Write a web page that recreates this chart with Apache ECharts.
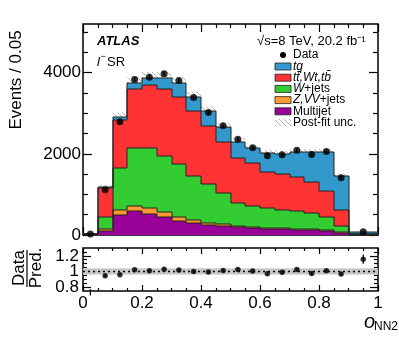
<!DOCTYPE html>
<html>
<head>
<meta charset="utf-8">
<script src="https://cdn.jsdelivr.net/npm/echarts@6/dist/echarts.min.js"></script>
<style>
  html, body { margin: 0; padding: 0; background: #fff; }
  #chart { width: 399px; height: 337px; }
</style>
</head>
<body>
<div id="chart"></div>
<script>
// bin edges of o_NN2 (last bin is 0.9-1.0)
const binEdges = [0, 0.05, 0.1, 0.15, 0.2, 0.25, 0.3, 0.35, 0.4, 0.45, 0.5,
  0.55, 0.6, 0.65, 0.7, 0.75, 0.8, 0.85, 0.9, 1.0];
// per-process contributions, bottom to top of the stack
const multijet = [10, 99, 505, 593, 520, 452, 354, 300, 250, 210, 185, 170, 148, 140, 125, 115, 105, 55, 5];
const zvvJets = [4, 46, 105, 127, 150, 108, 98, 70, 55, 55, 40, 35, 32, 25, 25, 25, 25, 20, 5];
const wJets = [6, 307, 1036, 1420, 1470, 1380, 1298, 1095, 955, 765, 565, 519, 478, 452, 443, 411, 322, 147, 15];
const ttbar = [8, 708, 1194, 1470, 1550, 1665, 1650, 1580, 1415, 1255, 1119, 1046, 906, 889, 831, 749, 642, 395, 7];
const tq = [2, 20, 70, 140, 170, 255, 345, 346, 370, 375, 395, 370, 452, 494, 617, 741, 947, 840, 38];
const dataCounts = [22, 1115, 2790, 3830, 3890, 3975, 3810, 3391, 3020, 2690, 2360, 2150, 1955, 1980, 2090, 1985, 2060, 1410, 81];
// relative post-fit uncertainty and data/pred error bars
const uncRel = [0.04, 0.04, 0.04, 0.04, 0.04, 0.04, 0.04, 0.04, 0.04, 0.04, 0.04, 0.04, 0.04, 0.04, 0.04, 0.04, 0.04, 0.04, 0.04];
const ratioErr = [0.04, 0.02, 0.015, 0.012, 0.012, 0.012, 0.012, 0.013, 0.014, 0.015, 0.016, 0.017, 0.018, 0.018, 0.017, 0.018, 0.018, 0.02, 0.06];

const xTicksMajor = [0, 0.2, 0.4, 0.6, 0.8, 1];
const xTicksMinor = [0.05, 0.1, 0.15, 0.25, 0.3, 0.35, 0.45, 0.5, 0.55, 0.65, 0.7, 0.75, 0.85, 0.9, 0.95];
const yTicksMajor = [0, 2000, 4000];
const yTicksMinor = [500, 1000, 1500, 2500, 3000, 3500, 4500, 5000];
const rTicksMajor = [0.8, 1, 1.2];
const rTicksMinor = [0.85, 0.9, 0.95, 1.05, 1.1, 1.15, 1.25];

const FONT = 'Liberation Sans, Arial, Helvetica, sans-serif';
const layers = [
  { name: 'Multijet', values: multijet, color: '#990099' },
  { name: 'Z,VV+jets', values: zvvJets, color: '#ff9933' },
  { name: 'W+jets', values: wJets, color: '#33cc33' },
  { name: 'tt,Wt,tb', values: ttbar, color: '#ff3333' },
  { name: 'tq', values: tq, color: '#3399cc' }
];

const nBins = binEdges.length - 1;
const centers = [];
for (let i = 0; i < nBins; i++) centers.push((binEdges[i] + binEdges[i + 1]) / 2);

// cumulative stack
const cum = [];
let running = new Array(nBins).fill(0);
layers.forEach(l => {
  const lo = running.slice();
  const hi = running.map((v, i) => v + l.values[i]);
  cum.push({ lo, hi });
  running = hi;
});
const total = running;
const ratio = dataCounts.map((d, i) => d / total[i]);

// hatch pattern for the uncertainty band
const hatch = document.createElement('canvas');
hatch.width = 5; hatch.height = 5;
const hc = hatch.getContext('2d');
hc.strokeStyle = '#a8a8a8';
hc.lineWidth = 0.9;
hc.beginPath();
hc.moveTo(-1, -1); hc.lineTo(6, 6);
hc.moveTo(4, -1); hc.lineTo(6, 1);
hc.moveTo(-1, 4); hc.lineTo(1, 6);
hc.stroke();
const hatchFill = { image: hatch, repeat: 'repeat' };

function stepItem(params, api) {
  const x0 = api.value(0), x1 = api.value(1), lo = api.value(2), hi = api.value(3);
  const prev = api.value(4), last = api.value(5);
  const a = api.coord([x0, hi]), b = api.coord([x1, lo]);
  const ax = Math.round(a[0]), ay = Math.round(a[1]), bx = Math.round(b[0]), by = Math.round(b[1]);
  const pts = [[ax, Math.round(api.coord([x0, prev])[1])], [ax, ay], [bx, ay]];
  if (last) pts.push([bx, Math.round(api.coord([x1, 0])[1])]);
  return {
    type: 'group',
    children: [
      { type: 'rect', z2: 0, shape: { x: ax, y: ay, width: bx - ax, height: by - ay }, style: { fill: api.visual('color') } },
      { type: 'polyline', z2: 10, shape: { points: pts }, style: { fill: null, stroke: '#222', lineWidth: 1 } }
    ]
  };
}

function bandItem(fill) {
  return function (params, api) {
    const a = api.coord([api.value(0), api.value(3)]);
    const b = api.coord([api.value(1), api.value(2)]);
    return { type: 'rect', shape: { x: a[0], y: a[1], width: b[0] - a[0], height: b[1] - a[1] }, style: { fill: fill } };
  };
}

function errItem(params, api) {
  const p0 = api.coord([api.value(0), api.value(1)]);
  const p1 = api.coord([api.value(0), api.value(2)]);
  return { type: 'line', shape: { x1: p0[0], y1: p0[1], x2: p1[0], y2: p1[1] }, style: { stroke: '#000', lineWidth: 1.2 } };
}

// two axes per side: long major ticks (+labels) and short minor ticks
function axisPair(grid, pos, min, max, majors, minors, majLen, minLen, label) {
  const base = {
    type: 'value', gridIndex: grid, position: pos, min: min, max: max,
    splitLine: { show: false }, axisLine: { show: false, onZero: false }
  };
  const major = Object.assign({}, base, {
    axisTick: { show: true, inside: true, length: majLen, customValues: majors, lineStyle: { color: '#000', width: 1.2 } },
    axisLabel: label ? Object.assign({ show: true, customValues: majors, color: '#000', fontFamily: FONT, fontSize: 17 }, label) : { show: false }
  });
  const minor = Object.assign({}, base, {
    axisTick: { show: true, inside: true, length: minLen, customValues: minors, lineStyle: { color: '#000', width: 1.2 } },
    axisLabel: { show: false }
  });
  return [major, minor];
}

const fmt = v => String(v);
const xAxes = [].concat(
  axisPair(0, 'bottom', 0, 1, xTicksMajor, xTicksMinor, 8, 4, null),
  axisPair(0, 'top', 0, 1, xTicksMajor, xTicksMinor, 8, 4, null),
  axisPair(1, 'bottom', 0, 1, xTicksMajor, xTicksMinor, 6, 3, { margin: 4, formatter: fmt }),
  axisPair(1, 'top', 0, 1, xTicksMajor, xTicksMinor, 6, 3, null)
);
const yAxes = [].concat(
  axisPair(0, 'left', 0, 5200, yTicksMajor, yTicksMinor, 9, 5, { margin: 2, formatter: fmt }),
  axisPair(0, 'right', 0, 5200, yTicksMajor, yTicksMinor, 9, 5, null),
  axisPair(1, 'left', 0.75, 1.3, rTicksMajor, rTicksMinor, 8, 4, null),
  axisPair(1, 'right', 0.75, 1.3, rTicksMajor, rTicksMinor, 8, 4, null)
);

const series = [];
// hatched post-fit band (drawn under the stack, top half shows)
series.push({
  type: 'custom', xAxisIndex: 0, yAxisIndex: 0, z: 1,
  renderItem: bandItem(hatchFill),
  data: total.map((t, i) => [binEdges[i], binEdges[i + 1], t * (1 - uncRel[i]), t * (1 + uncRel[i])])
});
layers.forEach((l, k) => {
  series.push({
    type: 'custom', name: l.name, xAxisIndex: 0, yAxisIndex: 0, z: 2,
    itemStyle: { color: l.color },
    renderItem: stepItem,
    data: cum[k].hi.map((h, i) => [binEdges[i], binEdges[i + 1], cum[k].lo[i], h,
      i === 0 ? 0 : cum[k].hi[i - 1], i === nBins - 1 ? 1 : 0])
  });
});
series.push({
  type: 'custom', xAxisIndex: 0, yAxisIndex: 0, z: 4, renderItem: errItem,
  data: dataCounts.map((d, i) => [centers[i], d - Math.sqrt(d), d + Math.sqrt(d)])
});
series.push({
  type: 'scatter', name: 'Data', xAxisIndex: 0, yAxisIndex: 0, z: 5,
  symbol: 'circle', symbolSize: 7, itemStyle: { color: '#000' },
  data: dataCounts.map((d, i) => [centers[i], d])
});
// ratio panel
series.push({
  type: 'custom', xAxisIndex: 4, yAxisIndex: 4, z: 1,
  renderItem: bandItem('#c6c6c6'),
  data: uncRel.map((u, i) => [binEdges[i], binEdges[i + 1], 1 - u, 1 + u])
});
series.push({
  type: 'line', xAxisIndex: 4, yAxisIndex: 4, z: 2, symbol: 'none',
  lineStyle: { color: '#000', width: 1.6, type: [2, 3] },
  data: [[0, 1], [1, 1]]
});
series.push({
  type: 'custom', xAxisIndex: 4, yAxisIndex: 4, z: 4, renderItem: errItem,
  data: ratio.map((r, i) => [centers[i], r - ratioErr[i], r + ratioErr[i]])
});
series.push({
  type: 'scatter', xAxisIndex: 4, yAxisIndex: 4, z: 5,
  symbol: 'circle', symbolSize: 5.5, itemStyle: { color: '#000' },
  data: ratio.map((r, i) => [centers[i], r])
});

// legend drawn as graphics
const legendRows = [
  { label: '{i|tq}', color: '#3399cc' },
  { label: '{i|tt\u0304,Wt,tb\u0304}', color: '#ff3333' },
  { label: '{i|W}{n|+jets}', color: '#33cc33' },
  { label: '{i|Z,VV}{n|+jets}', color: '#ff9933' },
  { label: '{n|Multijet}', color: '#990099' },
  { label: '{n|Post-fit unc.}', color: null }
];
const rich = {
  i: { fontStyle: 'italic', fontSize: 12, fontFamily: FONT, fill: '#000' },
  n: { fontSize: 12, fontFamily: FONT, fill: '#000' }
};
const graphics = [
  { type: 'circle', shape: { cx: 283, cy: 55, r: 3 }, style: { fill: '#000' } },
  { type: 'text', x: 293, y: 55, style: { text: 'Data', fontSize: 12, fontFamily: FONT, fill: '#000', verticalAlign: 'middle' } }
];
legendRows.forEach((r, k) => {
  const y = 66.5 + k * 11.2;
  graphics.push({
    type: 'rect', shape: { x: 275, y: y - 3.5, width: 16, height: 7 },
    style: r.color ? { fill: r.color, stroke: '#222', lineWidth: 0.8 } : { fill: hatchFill }
  });
  graphics.push({ type: 'text', x: 293, y: y, style: { text: r.label, rich: rich, verticalAlign: 'middle', fontSize: 12, fontFamily: FONT } });
});
graphics.push(
  { type: 'text', x: 97, y: 41, style: { text: 'ATLAS', fontSize: 13, fontWeight: 'bold', fontStyle: 'italic', fontFamily: FONT, fill: '#000', verticalAlign: 'middle' } },
  { type: 'text', x: 97, y: 62, style: { text: 'l', fontSize: 13, fontStyle: 'italic', fontFamily: FONT, fill: '#000', verticalAlign: 'middle' } },
  { type: 'text', x: 100.5, y: 57, style: { text: '\u2212', fontSize: 9, fontFamily: FONT, fill: '#000', verticalAlign: 'middle' } },
  { type: 'text', x: 107, y: 62, style: { text: 'SR', fontSize: 13, fontFamily: FONT, fill: '#000', verticalAlign: 'middle' } },
  { type: 'text', x: 257, y: 41, style: { text: '\u221As=8 TeV, 20.2 fb\u207B\u00B9', fontSize: 13, fontFamily: FONT, fill: '#000', verticalAlign: 'middle' } },
  { type: 'text', x: 16, y: 80, rotation: Math.PI / 2, style: { text: 'Events / 0.05', fontSize: 17, fontFamily: FONT, fill: '#000', align: 'center', verticalAlign: 'middle' } },
  { type: 'text', x: 19, y: 268, rotation: Math.PI / 2, style: { text: 'Data', fontSize: 17, fontFamily: FONT, fill: '#000', align: 'center', verticalAlign: 'middle' } },
  { type: 'line', shape: { x1: 27, y1: 250, x2: 27, y2: 287 }, style: { stroke: '#000', lineWidth: 1.2 } },
  { type: 'text', x: 36, y: 268, rotation: Math.PI / 2, style: { text: 'Pred.', fontSize: 17, fontFamily: FONT, fill: '#000', align: 'center', verticalAlign: 'middle' } },
  { type: 'text', x: 364, y: 322, style: { text: 'o', fontSize: 20, fontStyle: 'italic', fontFamily: FONT, fill: '#000', verticalAlign: 'middle' } },
  { type: 'text', x: 374, y: 327, style: { text: 'NN2', fontSize: 12, fontFamily: FONT, fill: '#000', verticalAlign: 'middle' } }
);

const chart = echarts.init(document.getElementById('chart'));
chart.setOption({
  animation: false,
  backgroundColor: '#fff',
  grid: [
    { left: 83, top: 24, width: 295, height: 211, show: true, borderColor: '#000', borderWidth: 1.5, backgroundColor: 'transparent' },
    { left: 83, top: 248, width: 295, height: 43, show: true, borderColor: '#000', borderWidth: 1.5, backgroundColor: 'transparent' }
  ],
  xAxis: xAxes,
  yAxis: yAxes,
  series: series,
  graphic: graphics
});

// ratio tick labels are close together, so place them through the axis scale
const ratioLabels = rTicksMajor.map(v => ({
  type: 'text', x: 79, y: chart.convertToPixel({ yAxisIndex: 4 }, v),
  style: { text: String(v), fontSize: 17, fontFamily: FONT, fill: '#000', align: 'right', verticalAlign: 'middle' }
}));
chart.setOption({ graphic: graphics.concat(ratioLabels) });
</script>
</body>
</html>
